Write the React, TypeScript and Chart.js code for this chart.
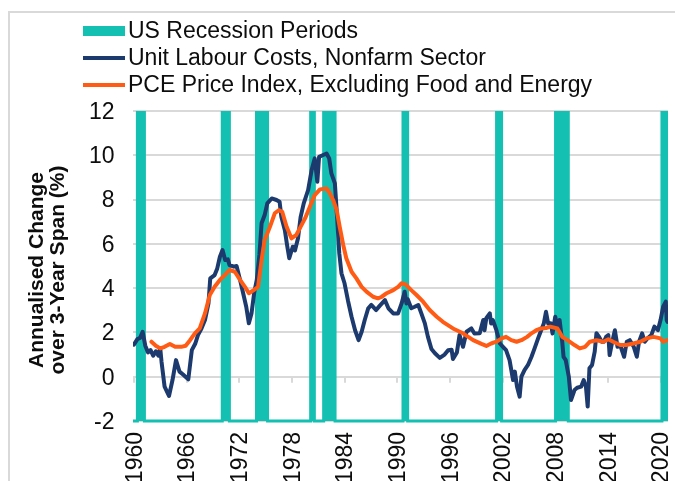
import React, { useEffect, useRef } from "react";
import { Chart, registerables } from "chart.js";
Chart.register(...registerables);

// ---------- data ----------
const ulcYears = [
  1960.0, 1960.4, 1960.7, 1961.0, 1961.3, 1961.6, 1961.9, 1962.2, 1962.5, 1962.8,
  1963.0, 1963.15, 1963.5, 1964.0, 1964.4, 1964.8, 1965.2, 1965.6, 1966.2, 1966.6,
  1967.0, 1967.3, 1967.7, 1968.1, 1968.5, 1968.7, 1969.2, 1969.5, 1969.8, 1970.1,
  1970.4, 1970.7, 1970.9, 1971.4, 1971.7, 1972.1, 1972.45, 1972.8, 1973.1, 1973.4,
  1973.7, 1974.0, 1974.3, 1974.55, 1974.9, 1975.2, 1975.7, 1976.25, 1976.6, 1976.8,
  1977.2, 1977.45, 1977.7, 1978.1, 1978.35, 1978.7, 1979.0, 1979.35, 1979.85, 1980.25,
  1980.6, 1980.9, 1981.1, 1981.5, 1981.95, 1982.25, 1982.5, 1982.9, 1983.15, 1983.4,
  1983.65, 1984.0, 1984.4, 1984.8, 1985.2, 1985.6, 1985.95, 1986.3, 1986.7, 1987.05,
  1987.6, 1988.0, 1988.6, 1989.0, 1989.55, 1990.1, 1990.5, 1990.85, 1991.05, 1991.2,
  1991.6, 1992.0, 1992.4, 1992.75, 1993.15, 1993.5, 1993.9, 1994.3, 1994.85, 1995.4,
  1995.8, 1996.2, 1996.35, 1996.8, 1997.1, 1997.5, 1997.9, 1998.45, 1998.8, 1999.4,
  1999.8, 1999.95, 2000.15, 2000.55, 2000.7, 2000.9, 2001.3, 2001.7, 2002.05, 2002.4,
  2002.8, 2003.2, 2003.4, 2003.65, 2003.95, 2004.15, 2004.5, 2004.9, 2005.3, 2005.65,
  2006.05, 2006.4, 2006.7, 2006.95, 2007.2, 2007.5, 2007.7, 2008.0, 2008.25, 2008.5,
  2008.8, 2008.95, 2009.2, 2009.55, 2009.8, 2010.2, 2010.5, 2010.95, 2011.25, 2011.5,
  2011.7, 2011.9, 2012.2, 2012.5, 2012.7, 2013.0, 2013.3, 2013.55, 2013.8, 2014.05,
  2014.2, 2014.5, 2014.8, 2015.1, 2015.4, 2015.85, 2016.15, 2016.5, 2016.95, 2017.3,
  2017.55, 2017.9, 2018.2, 2018.5, 2018.95, 2019.3, 2019.7, 2020.0, 2020.3, 2020.6,
  2020.7, 2020.8,
];
const ulcValues = [
  1.45, 1.7, 1.75, 2.03, 1.4, 1.1, 1.2, 0.95, 1.15, 0.95,
  1.3, 0.68, -0.45, -0.87, -0.15, 0.75, 0.23, 0.1, -0.12, 1.2,
  1.5, 1.88, 2.18, 2.56, 3.31, 4.44, 4.59, 4.89, 5.42, 5.72,
  5.27, 5.3, 5.04, 4.97, 5.0, 4.37, 3.77, 3.16, 2.41, 2.86,
  3.77, 4.37, 5.5, 6.93, 7.3, 7.83, 8.05, 7.98, 7.9, 7.22,
  6.62, 5.95, 5.35, 5.87, 5.7, 6.25, 7.22, 7.83, 8.43, 9.33,
  9.86, 8.8, 9.93, 10.0, 10.08, 9.86, 9.18, 8.73, 7.22, 5.57,
  4.67, 4.22, 3.42, 2.71, 2.1, 1.65, 2.03, 2.56, 3.09, 3.24,
  3.01, 3.2, 3.46, 3.09, 2.86, 2.86, 3.31, 3.84, 3.31, 3.5,
  3.09, 3.16, 3.24, 2.86, 2.41, 1.8, 1.25, 1.06, 0.85, 1.0,
  1.2, 1.22, 0.8, 1.1, 1.88, 1.35, 2.03, 2.18, 1.95, 1.96,
  2.56, 2.1, 2.64, 2.86, 2.4, 2.56, 2.1, 1.5, 1.35, 1.2,
  0.75, -0.15, 0.23, -0.45, -0.9, 0.0, 0.3, 0.53, 0.9, 1.28,
  1.73, 2.1, 2.4, 2.93, 2.4, 2.41, 1.95, 2.71, 2.26, 2.56,
  1.58, 0.9, 0.75, 0.0, -1.05, -0.6, -0.5, -0.45, -0.15, -0.45,
  -1.35, 0.38, 0.53, 1.13, 1.96, 1.8, 1.58, 1.58, 1.8, 1.88,
  0.98, 1.58, 2.1, 1.35, 1.43, 0.9, 1.58, 1.65, 1.35, 0.9,
  1.58, 1.96, 1.58, 1.73, 1.88, 2.26, 2.1, 2.56, 3.16, 3.39,
  2.56, 2.48,
];

const pceYears = [
  1962.0, 1962.5, 1963.0, 1963.5, 1964.1, 1964.7, 1965.4, 1965.9, 1966.4, 1966.95,
  1967.5, 1968.1, 1968.65, 1969.2, 1969.8, 1970.35, 1970.9, 1971.5, 1972.1, 1972.65,
  1973.1, 1973.65, 1974.15, 1974.55, 1974.9, 1975.5, 1976.05, 1976.5, 1976.9, 1977.4,
  1977.95, 1978.5, 1978.9, 1979.5, 1980.05, 1980.6, 1981.2, 1981.95, 1982.3, 1982.7,
  1983.1, 1983.45, 1983.85, 1984.2, 1984.8, 1985.35, 1985.95, 1986.5, 1987.25, 1987.8,
  1988.2, 1988.8, 1989.55, 1990.1, 1990.5, 1990.95, 1991.6, 1992.2, 1992.95, 1993.7,
  1994.5, 1995.2, 1996.35, 1997.5, 1998.65, 1999.6, 2000.15, 2000.7, 2001.3, 2001.9,
  2002.4, 2003.0, 2003.6, 2004.15, 2004.8, 2005.3, 2005.85, 2006.4, 2006.95, 2007.45,
  2008.25, 2008.8, 2009.4, 2010.2, 2010.8, 2011.4, 2011.95, 2012.7, 2013.5, 2014.05,
  2014.6, 2015.4, 2016.1, 2016.9, 2017.7, 2018.4, 2019.2, 2020.0, 2020.3, 2020.8,
];
const pceValues = [
  1.58, 1.4, 1.28, 1.35, 1.48, 1.35, 1.35, 1.4, 1.65, 1.96,
  2.18, 2.86, 3.69, 4.06, 4.37, 4.59, 4.82, 4.74, 4.37, 4.06,
  3.77, 3.91, 4.06, 5.27, 6.17, 6.77, 7.38, 7.52, 7.45, 6.77,
  6.25, 6.4, 6.7, 7.15, 7.68, 8.2, 8.46, 8.5, 8.3, 7.98,
  7.53, 6.77, 5.95, 5.35, 4.74, 4.44, 4.06, 3.84, 3.61, 3.54,
  3.6, 3.77, 3.91, 4.06, 4.22, 4.17, 3.91, 3.69, 3.39, 3.01,
  2.71, 2.48, 2.18, 1.96, 1.65, 1.48, 1.39, 1.5, 1.58, 1.73,
  1.8, 1.65, 1.58, 1.65, 1.8, 1.96, 2.1, 2.18, 2.2, 2.26,
  2.18, 1.8, 1.65, 1.43, 1.28, 1.35, 1.58, 1.65, 1.58, 1.69,
  1.58, 1.43, 1.43, 1.5, 1.58, 1.73, 1.8, 1.73, 1.58, 1.65,
];

const recessionStarts = [1960.4, 1970.07, 1973.97, 1980.14, 1981.62, 1990.66, 2001.32, 2008.04, 2020.16];
const recessionEnds = [1961.2, 1970.88, 1975.23, 1980.56, 1982.92, 1991.19, 2001.89, 2009.49, 2020.68];

const xTickYears = [1960, 1966, 1972, 1978, 1984, 1990, 1996, 2002, 2008, 2014, 2020];
const yTickValues = [-2, 0, 2, 4, 6, 8, 10, 12];
const legendLabels = [
  "US Recession Periods",
  "Unit Labour Costs, Nonfarm Sector",
  "PCE Price Index, Excluding Food and Energy",
];
const yTitleLines = ["Annualised Change", "over 3-Year Span (%)"];

const X_MIN = 1959.9;
const X_MAX = 2020.85;
const Y_MIN = -2;
const Y_MAX = 12;

// ---------- styles ----------
const TEAL = "#14C0B2";
const NAVY = "#1C3A6E";
const ORANGE = "#FF5B14";
const GRID = "#D9D9D9";
const TEXT = "#0D0D0D";
const FONT = "'Liberation Sans', Arial, sans-serif";
const FS = 23;
const TITLE_FS = 21;

function drawText(
  ctx: CanvasRenderingContext2D,
  text: string,
  x: number,
  y: number,
  o: { font: string; align: CanvasTextAlign; baseline?: CanvasTextBaseline; rotate?: boolean }
) {
  ctx.save();
  ctx.translate(x, y);
  if (o.rotate) ctx.rotate(-Math.PI / 2);
  ctx.font = o.font;
  ctx.textAlign = o.align;
  ctx.textBaseline = o.baseline || "middle";
  ctx.fillStyle = TEXT;
  ctx.fillText(text, 0, 0);
  ctx.restore();
}

const decorPlugin = {
  id: "decor",
  beforeDatasetsDraw(chart: any) {
    const ctx = chart.ctx as CanvasRenderingContext2D;
    const xs = chart.scales.x;
    const ys = chart.scales.y;
    const y0 = ys.getPixelForValue(0);
    ctx.save();
    ctx.strokeStyle = GRID;
    ctx.lineWidth = 2;
    xTickYears.forEach((yr) => {
      const px = Math.round(xs.getPixelForValue(yr));
      ctx.beginPath();
      ctx.moveTo(px, y0);
      ctx.lineTo(px, y0 + 6);
      ctx.stroke();
    });
    ctx.restore();
  },
  afterDraw(chart: any) {
    const ctx = chart.ctx as CanvasRenderingContext2D;
    const xs = chart.scales.x;
    const ys = chart.scales.y;
    const area = chart.chartArea;

    // outer border
    ctx.save();
    ctx.strokeStyle = GRID;
    ctx.lineWidth = 2;
    ctx.beginPath();
    ctx.moveTo(9, 481);
    ctx.lineTo(9, 12);
    ctx.lineTo(675, 12);
    ctx.stroke();
    ctx.restore();

    const font = `${FS}px ${FONT}`;
    // y tick labels
    yTickValues.forEach((v) => {
      drawText(ctx, String(v), area.left - 18.5, ys.getPixelForValue(v) + 1.5, { font, align: "right" });
    });
    // x tick labels
    xTickYears.forEach((yr) => {
      drawText(ctx, String(yr), xs.getPixelForValue(yr) + 1.5, area.bottom + 11, {
        font,
        align: "right",
        rotate: true,
      });
    });
    // y title
    const midY = (area.top + area.bottom) / 2 + 4;
    const tfont = `bold ${TITLE_FS}px ${FONT}`;
    drawText(ctx, yTitleLines[0], 37, midY, { font: tfont, align: "center", rotate: true });
    drawText(ctx, yTitleLines[1], 58, midY, { font: tfont, align: "center", rotate: true });

    // legend
    const rows = [31, 58, 85];
    ctx.save();
    ctx.fillStyle = TEAL;
    ctx.fillRect(83, rows[0] - 5, 42, 10);
    ctx.lineWidth = 4;
    ctx.strokeStyle = NAVY;
    ctx.beginPath();
    ctx.moveTo(83, rows[1]);
    ctx.lineTo(125, rows[1]);
    ctx.stroke();
    ctx.strokeStyle = ORANGE;
    ctx.beginPath();
    ctx.moveTo(83, rows[2]);
    ctx.lineTo(125, rows[2]);
    ctx.stroke();
    ctx.restore();
    legendLabels.forEach((t, i) => drawText(ctx, t, 128, rows[i] + 1, { font, align: "left" }));
  },
};

export default function App() {
  const ref = useRef<HTMLCanvasElement | null>(null);

  useEffect(() => {
    if (!ref.current) return;
    document.body.style.background = "#ffffff";

    const recessionData: { x: number; y: number }[] = [{ x: X_MIN, y: Y_MIN }];
    recessionStarts.forEach((s, i) => {
      const e = recessionEnds[i];
      recessionData.push({ x: s, y: Y_MIN }, { x: s, y: Y_MAX }, { x: e, y: Y_MAX }, { x: e, y: Y_MIN });
    });
    const ulcData = ulcYears.map((x, i) => ({ x, y: ulcValues[i] }));
    const pceData = pceYears.map((x, i) => ({ x, y: pceValues[i] }));

    const chart = new Chart(ref.current, {
      type: "line",
      data: {
        datasets: [
          {
            label: legendLabels[2],
            data: pceData,
            borderColor: ORANGE,
            borderWidth: 4,
            pointRadius: 0,
            tension: 0,
            fill: false,
            borderJoinStyle: "round",
            borderCapStyle: "round",
            order: 1,
          },
          {
            label: legendLabels[1],
            data: ulcData,
            borderColor: NAVY,
            borderWidth: 4,
            pointRadius: 0,
            tension: 0,
            fill: false,
            borderJoinStyle: "round",
            borderCapStyle: "round",
            order: 2,
          },
          {
            label: legendLabels[0],
            data: recessionData,
            borderColor: TEAL,
            backgroundColor: TEAL,
            borderWidth: 3,
            pointRadius: 0,
            tension: 0,
            fill: "start",
            order: 3,
            clip: { left: 2, top: 0, right: 2, bottom: 3 } as any,
          },
        ],
      },
      options: {
        responsive: false,
        animation: false,
        devicePixelRatio: 1,
        layout: { padding: { left: 133, top: 111, right: 7, bottom: 60 } },
        plugins: { legend: { display: false }, tooltip: { enabled: false } },
        scales: {
          x: {
            type: "linear",
            min: X_MIN,
            max: X_MAX,
            display: false,
          },
          y: {
            type: "linear",
            min: Y_MIN,
            max: Y_MAX,
            ticks: { display: false, stepSize: 2 },
            grid: { color: GRID, lineWidth: 2, drawTicks: false },
            border: { display: false },
            afterFit: (s: any) => {
              s.width = 0;
            },
          },
        },
      },
      plugins: [decorPlugin],
    });
    return () => chart.destroy();
  }, []);

  return (
    <div style={{ position: "fixed", left: 0, top: 0, width: 675, height: 481, background: "#fff" }}>
      <canvas ref={ref} width={675} height={481} style={{ width: 675, height: 481, display: "block" }} />
    </div>
  );
}
